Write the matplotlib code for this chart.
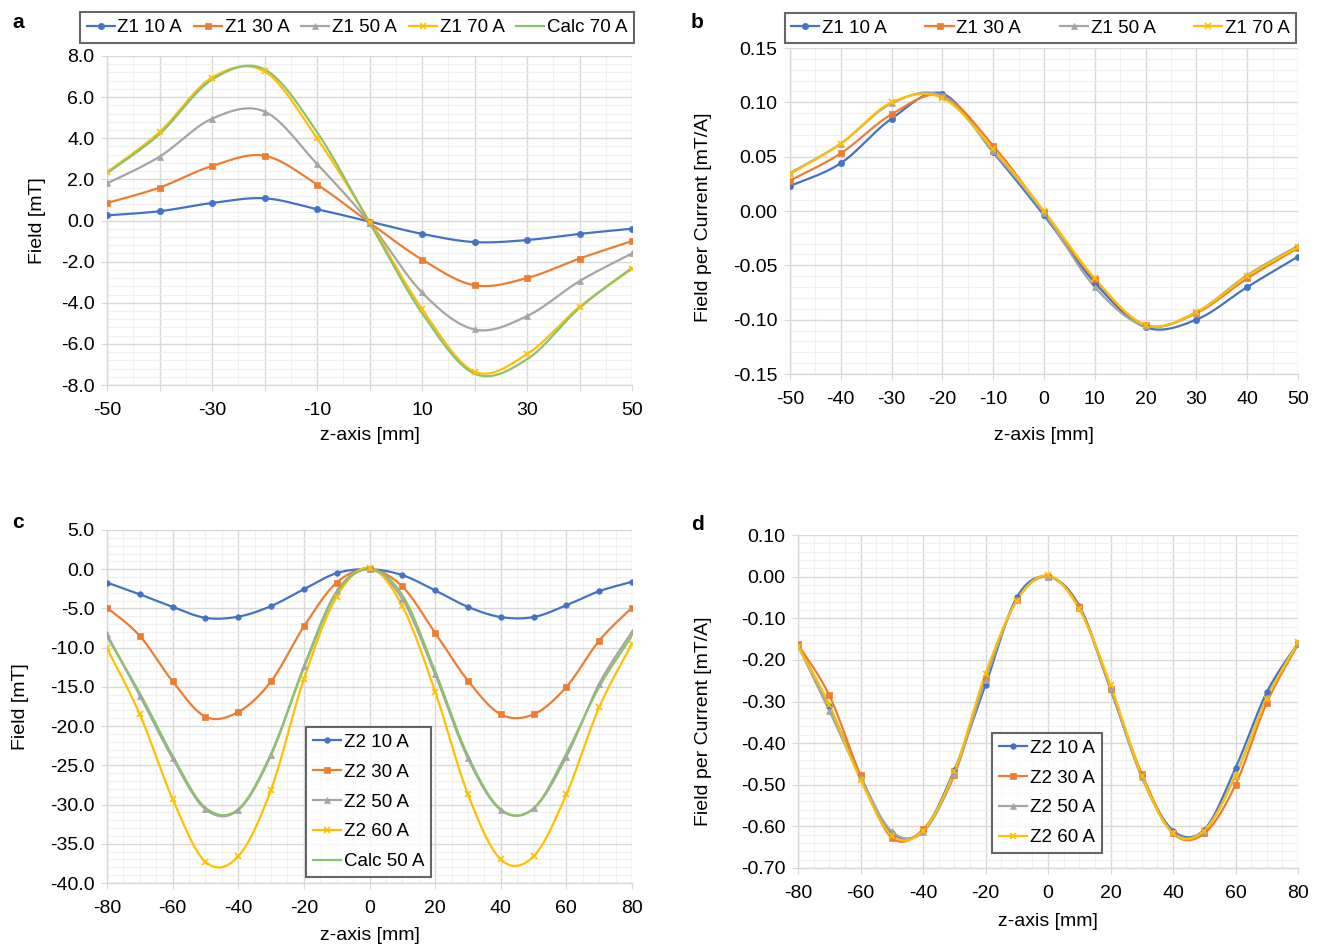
import numpy as np
import matplotlib
matplotlib.use("Agg")
import matplotlib.pyplot as plt
from matplotlib.ticker import MultipleLocator, FormatStrFormatter

plt.rcParams['font.family'] = ['Liberation Sans', 'DejaVu Sans']

# ---------------- data ----------------
z_a = [-50, -40, -30, -20, -10, 0, 10, 20, 30, 40, 50]
a_z1_10 = [0.25, 0.45, 0.85, 1.08, 0.55, -0.05, -0.65, -1.05, -0.95, -0.65, -0.40]
a_z1_30 = [0.85, 1.60, 2.65, 3.15, 1.75, -0.10, -1.90, -3.15, -2.80, -1.85, -1.00]
a_z1_50 = [1.80, 3.10, 4.95, 5.30, 2.75, -0.10, -3.50, -5.30, -4.65, -2.95, -1.60]
a_z1_70 = [2.35, 4.30, 6.95, 7.25, 4.00, -0.05, -4.30, -7.35, -6.50, -4.20, -2.35]
a_calc_70 = [2.30, 4.20, 6.85, 7.35, 4.30, -0.10, -4.50, -7.45, -6.75, -4.25, -2.30]

z_b = [-50, -40, -30, -20, -10, 0, 10, 20, 30, 40, 50]
b_z1_10 = [0.023, 0.044, 0.085, 0.108, 0.054, -0.004, -0.066, -0.107, -0.100, -0.070, -0.042]
b_z1_30 = [0.028, 0.053, 0.089, 0.106, 0.060, -0.001, -0.063, -0.105, -0.094, -0.062, -0.034]
b_z1_50 = [0.035, 0.062, 0.099, 0.106, 0.055, -0.002, -0.070, -0.106, -0.093, -0.059, -0.032]
b_z1_70 = [0.034, 0.062, 0.100, 0.104, 0.057, 0.000, -0.062, -0.105, -0.093, -0.060, -0.033]

z_c = [-80, -70, -60, -50, -40, -30, -20, -10, 0, 10, 20, 30, 40, 50, 60, 70, 80]
c_z2_10 = [-1.7, -3.2, -4.8, -6.2, -6.05, -4.7, -2.55, -0.5, 0.0, -0.75, -2.7, -4.8, -6.1, -6.1, -4.6, -2.8, -1.6]
c_z2_30 = [-4.9, -8.5, -14.3, -18.8, -18.2, -14.3, -7.3, -1.7, 0.0, -2.2, -8.1, -14.2, -18.5, -18.5, -15.0, -9.1, -4.9]
c_z2_50 = [-8.3, -16.1, -24.1, -30.6, -30.7, -23.7, -12.4, -2.8, 0.0, -3.8, -13.4, -24.1, -30.7, -30.5, -23.9, -14.6, -8.0]
c_z2_60 = [-10.1, -18.5, -29.3, -37.3, -36.6, -28.1, -14.0, -3.5, 0.2, -4.7, -15.6, -28.7, -37.0, -36.6, -28.7, -17.6, -9.5]
c_calc_50 = [-8.6, -15.8, -23.8, -30.4, -30.6, -23.5, -12.6, -3.0, 0.0, -3.3, -13.0, -23.8, -30.6, -30.5, -23.5, -15.0, -8.5]

z_d = [-80, -70, -60, -50, -40, -30, -20, -10, 0, 10, 20, 30, 40, 50, 60, 70, 80]
d_z2_10 = [-0.165, -0.310, -0.480, -0.615, -0.610, -0.465, -0.260, -0.050, 0.000, -0.070, -0.270, -0.480, -0.610, -0.608, -0.460, -0.278, -0.160]
d_z2_30 = [-0.163, -0.285, -0.477, -0.627, -0.607, -0.477, -0.243, -0.057, 0.000, -0.073, -0.270, -0.473, -0.617, -0.617, -0.500, -0.303, -0.163]
d_z2_50 = [-0.166, -0.322, -0.482, -0.612, -0.614, -0.474, -0.248, -0.056, 0.000, -0.076, -0.268, -0.482, -0.614, -0.610, -0.478, -0.292, -0.160]
d_z2_60 = [-0.168, -0.308, -0.488, -0.622, -0.610, -0.468, -0.233, -0.058, 0.003, -0.078, -0.260, -0.478, -0.617, -0.610, -0.478, -0.293, -0.158]

BLUE, ORANGE, GRAY, YELLOW, GREEN = '#4472C4', '#ED7D31', '#A5A5A5', '#FFC000', '#8DC16B'
FS = 14


def smooth(x, y, n=24):
    """Excel-like smoothed line (cubic Bezier with Catmull-Rom control points)."""
    P = np.column_stack([np.asarray(x, float), np.asarray(y, float)])
    m = len(P)
    out = []
    for i in range(m - 1):
        p0 = P[max(i - 1, 0)]
        p1 = P[i]
        p2 = P[i + 1]
        p3 = P[min(i + 2, m - 1)]
        c1 = p1 + (p2 - p0) / 6.0
        c2 = p2 - (p3 - p1) / 6.0
        t = np.linspace(0, 1, n, endpoint=(i == m - 2))[:, None]
        seg = ((1 - t) ** 3) * p1 + 3 * ((1 - t) ** 2) * t * c1 + 3 * (1 - t) * t ** 2 * c2 + t ** 3 * p2
        out.append(seg)
    out = np.vstack(out)
    return out[:, 0], out[:, 1]


def series(ax, x, y, color, marker, label, ms=4.5, lw=1.6):
    sx, sy = smooth(x, y)
    ax.plot(sx, sy, color=color, lw=lw, zorder=3)
    mew = 1.2 if marker == 'x' else 0.5
    if marker is not None:
        ax.plot(x, y, linestyle='none', marker=marker, color=color, ms=ms, mew=mew, zorder=4)
    # proxy for legend
    ax.plot([], [], color=color, lw=lw, marker=marker, ms=ms, mew=mew, label=label)


def style(ax, xlim, ylim, xmaj, xlab_step, ymaj, xminor, yminor, yfmt):
    ax.set_xlim(*xlim)
    ax.set_ylim(*ylim)
    ax.xaxis.set_minor_locator(MultipleLocator(xminor))
    ax.yaxis.set_major_locator(MultipleLocator(ymaj))
    ax.yaxis.set_minor_locator(MultipleLocator(yminor))
    ax.yaxis.set_major_formatter(FormatStrFormatter(yfmt))
    ticks = np.arange(xlim[0], xlim[1] + 0.1, xmaj)
    ax.set_xticks(ticks)
    ax.set_xticklabels([('%d' % t) if (round(t - xlim[0]) % xlab_step == 0) else '' for t in ticks])
    ax.grid(True, which='major', color='#D9D9D9', lw=1.0, zorder=0)
    ax.grid(True, which='minor', color='#F0F0F0', lw=0.8, zorder=0)
    for s in ['top', 'right']:
        ax.spines[s].set_visible(False)
    for s in ['left', 'bottom']:
        ax.spines[s].set_color('#D9D9D9')
        ax.spines[s].set_linewidth(1.0)
    ax.tick_params(which='major', length=4, color='#D9D9D9', labelsize=FS, labelcolor='black')
    ax.tick_params(axis='x', which='major', pad=8)
    ax.tick_params(axis='y', which='major', pad=5)
    ax.tick_params(which='minor', length=0)
    ax.set_axisbelow(True)


W, H = 1323, 950
fig = plt.figure(figsize=(W / 100, H / 100), dpi=100)


def add_axes(l, r, t, b):
    return fig.add_axes([l / W, 1 - b / H, (r - l) / W, (b - t) / H])


axa = add_axes(107, 632, 56, 385)
axb = add_axes(790, 1298, 48, 374)
axc = add_axes(107, 632, 530, 883)
axd = add_axes(798, 1298, 535, 868)

# ---- panel a ----
series(axa, z_a, a_z1_10, BLUE, 'o', 'Z1 10 A')
series(axa, z_a, a_z1_30, ORANGE, 's', 'Z1 30 A')
series(axa, z_a, a_z1_50, GRAY, '^', 'Z1 50 A')
series(axa, z_a, a_z1_70, YELLOW, 'x', 'Z1 70 A')
series(axa, z_a, a_calc_70, GREEN, None, 'Calc 70 A')
style(axa, (-50, 50), (-8, 8), 10, 20, 2, 5, 0.4, '%.1f')
axa.set_ylabel('Field [mT]', fontsize=FS)
axa.yaxis.set_label_coords(-0.116, 0.5)
axa.set_xlabel('z-axis [mm]', fontsize=FS)
axa.xaxis.set_label_coords(0.5, -0.128)

# ---- panel b ----
series(axb, z_b, b_z1_10, BLUE, 'o', 'Z1 10 A')
series(axb, z_b, b_z1_30, ORANGE, 's', 'Z1 30 A')
series(axb, z_b, b_z1_50, GRAY, '^', 'Z1 50 A')
series(axb, z_b, b_z1_70, YELLOW, 'x', 'Z1 70 A')
style(axb, (-50, 50), (-0.15, 0.15), 10, 10, 0.05, 5, 0.01, '%.2f')
axb.set_ylabel('Field per Current [mT/A]', fontsize=FS)
axb.yaxis.set_label_coords(-0.154, 0.48)
axb.set_xlabel('z-axis [mm]', fontsize=FS)
axb.xaxis.set_label_coords(0.5, -0.163)

# ---- panel c ----
series(axc, z_c, c_z2_10, BLUE, 'o', 'Z2 10 A', ms=4)
series(axc, z_c, c_z2_30, ORANGE, 's', 'Z2 30 A', ms=4)
series(axc, z_c, c_z2_50, GRAY, '^', 'Z2 50 A', ms=4)
series(axc, z_c, c_z2_60, YELLOW, 'x', 'Z2 60 A', ms=4)
series(axc, z_c, c_calc_50, GREEN, None, 'Calc 50 A')
style(axc, (-80, 80), (-40, 5), 20, 20, 5, 5, 1, '%.1f')
axc.set_ylabel('Field [mT]', fontsize=FS)
axc.yaxis.set_label_coords(-0.149, 0.5)
axc.set_xlabel('z-axis [mm]', fontsize=FS)
axc.xaxis.set_label_coords(0.5, -0.125)

# ---- panel d ----
series(axd, z_d, d_z2_10, BLUE, 'o', 'Z2 10 A', ms=4)
series(axd, z_d, d_z2_30, ORANGE, 's', 'Z2 30 A', ms=4)
series(axd, z_d, d_z2_50, GRAY, '^', 'Z2 50 A', ms=4)
series(axd, z_d, d_z2_60, YELLOW, 'x', 'Z2 60 A', ms=4)
style(axd, (-80, 80), (-0.70, 0.10), 20, 20, 0.10, 5, 0.02, '%.2f')
axd.set_ylabel('Field per Current [mT/A]', fontsize=FS)
axd.yaxis.set_label_coords(-0.172, 0.44)
axd.set_xlabel('z-axis [mm]', fontsize=FS)
axd.xaxis.set_label_coords(0.5, -0.135)

# ---- legends ----
legkw = dict(frameon=True, fancybox=False, edgecolor='#404040', fontsize=13.5,
             handlelength=1.5, handletextpad=0.15, borderpad=0.35)
la = axa.legend(loc='center', bbox_to_anchor=(357 / W, 1 - 27.5 / H), bbox_transform=fig.transFigure,
                ncol=5, columnspacing=0.62, **legkw)
lb = axb.legend(loc='center', bbox_to_anchor=(1040.5 / W, 1 - 28 / H), bbox_transform=fig.transFigure,
                ncol=4, columnspacing=2.05, **legkw)
lc = axc.legend(loc='center', bbox_to_anchor=(368.5 / W, 1 - 802 / H), bbox_transform=fig.transFigure,
                ncol=1, labelspacing=0.68, **legkw)
ld = axd.legend(loc='center', bbox_to_anchor=(1047 / W, 1 - 793 / H), bbox_transform=fig.transFigure,
                ncol=1, labelspacing=0.68, **legkw)
for lg in (la, lb, lc, ld):
    lg.get_frame().set_linewidth(1.5)
    lg.set_zorder(10)

# ---- panel letters ----
for txt, x, y in [('a', 18, 22), ('b', 697, 22), ('c', 18, 523), ('d', 697, 525)]:
    fig.text(x / W, 1 - y / H, txt, fontsize=15, fontweight='bold', ha='center', va='center')

fig.savefig('out.png', dpi=100)
